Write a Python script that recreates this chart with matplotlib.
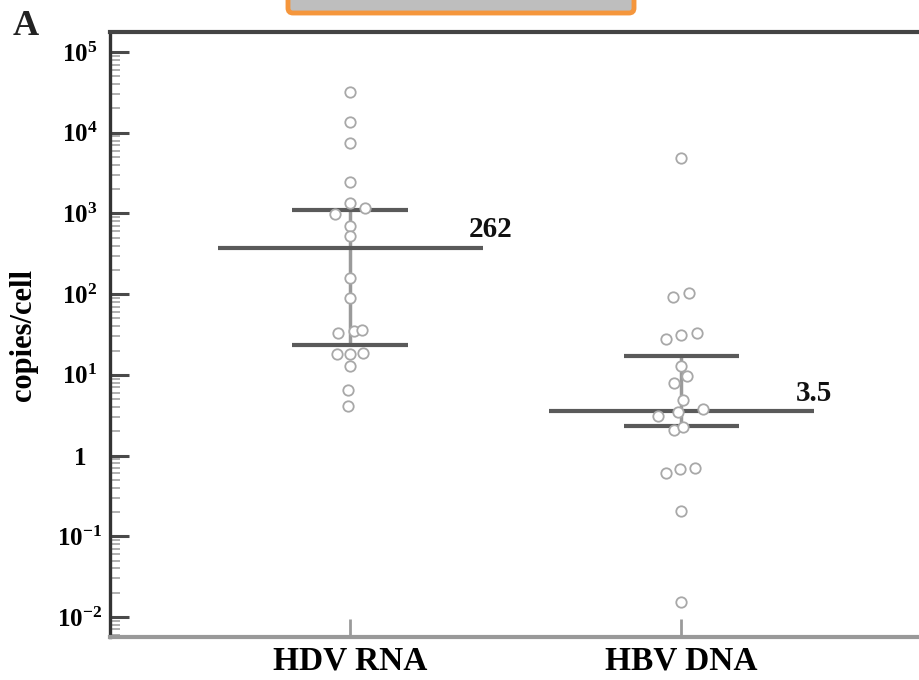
"""
Scatter of HDV RNA and HBV DNA copies per cell (log scale)
with mean line and interquartile bars, panel A.
"""

import numpy as np
import matplotlib
matplotlib.use("Agg")
import matplotlib.pyplot as plt
from matplotlib.patches import FancyBboxPatch
from matplotlib.ticker import FixedLocator, LogLocator, NullFormatter

plt.rcParams["font.family"] = ["Liberation Serif", "DejaVu Serif"]
plt.rcParams["font.weight"] = "bold"
plt.rcParams["mathtext.fontset"] = "custom"
plt.rcParams["mathtext.rm"] = "Liberation Serif"
plt.rcParams["mathtext.bf"] = "Liberation Serif:bold"

# ── DATA ───────────────────────────────────────────────────────

categories = ["HDV RNA", "HBV DNA"]

hdv_values = [31900, 13600, 7450, 2450, 1345, 984, 1168, 698, 525, 158,
              89.6, 34.9, 33.0, 35.9, 18.1, 18.1, 18.6, 12.9, 6.48, 4.10]
hdv_jitter = [0, 0, 0, 0, 0, -0.045, 0.045, 0, 0, 0,
              0, 0.01, -0.036, 0.036, -0.04, 0, 0.04, 0, -0.006, -0.006]

hbv_values = [4850, 92, 103, 27.8, 31.1, 33.0, 12.9, 9.67, 7.9, 4.88,
              3.08, 3.46, 3.77, 2.07, 2.26, 0.607, 0.681, 0.700, 0.205, 0.0153]
hbv_jitter = [0, -0.027, 0.024, -0.048, 0, 0.048, 0, 0.018, -0.024, 0.006,
              -0.07, -0.012, 0.066, -0.024, 0.006, -0.048, -0.003, 0.042, 0, 0]

# mean line, upper and lower quartile bars
mean_values = [370, 3.56]
upper_q = [1100, 17.1]
lower_q = [23.4, 2.32]
mean_labels = ["262", "3.5"]

ytick_values = [1e-2, 1e-1, 1, 1e1, 1e2, 1e3, 1e4, 1e5]
ytick_labels = [r"$\mathbf{10^{-2}}$", r"$\mathbf{10^{-1}}$", r"$\mathbf{1}$",
                r"$\mathbf{10^{1}}$", r"$\mathbf{10^{2}}$", r"$\mathbf{10^{3}}$",
                r"$\mathbf{10^{4}}$", r"$\mathbf{10^{5}}$"]

# ── FIGURE ─────────────────────────────────────────────────────

fig = plt.figure(figsize=(9.19, 6.80), dpi=100)
ax = fig.add_axes([0.1197, 0.0632, 0.885, 0.8897])

LINE_DARK = "#5a5a5a"
POINT_EDGE = "#a8a8a8"

groups = [(hdv_values, hdv_jitter), (hbv_values, hbv_jitter)]

for i, (vals, jit) in enumerate(groups):
    # vertical connector between quartiles
    ax.plot([i, i], [lower_q[i], upper_q[i]], color="#9a9a9a",
            linewidth=2.5, zorder=2, solid_capstyle="butt")
    # quartile bars
    for q in (upper_q[i], lower_q[i]):
        ax.plot([i - 0.175, i + 0.175], [q, q], color=LINE_DARK,
                linewidth=3.0, zorder=2, solid_capstyle="butt")
    # mean line
    ax.plot([i - 0.40, i + 0.40], [mean_values[i], mean_values[i]],
            color=LINE_DARK, linewidth=3.0, zorder=2, solid_capstyle="butt")

    xs = np.array(jit) + i
    ax.plot(xs, vals, linestyle="none", marker="o", markersize=7.5,
            markerfacecolor="white", markeredgecolor=POINT_EDGE,
            markeredgewidth=1.3, zorder=3)

# mean value labels
ax.annotate(mean_labels[0], xy=(0.40, mean_values[0]), xytext=(6, 8),
            textcoords="offset points", ha="center", va="baseline",
            fontsize=21, fontweight="bold", color="#111111")
ax.annotate(mean_labels[1], xy=(1.40, mean_values[1]), xytext=(0, 7),
            textcoords="offset points", ha="center", va="baseline",
            fontsize=21, fontweight="bold", color="#111111")

# ── AXES ───────────────────────────────────────────────────────

ax.set_yscale("log")
ax.set_ylim(10 ** -2.249, 10 ** 5.248)
ax.set_xlim(-0.725, 1.73)

ax.yaxis.set_major_locator(FixedLocator(ytick_values))
ax.set_yticklabels(ytick_labels)
ax.yaxis.set_minor_locator(LogLocator(base=10, subs=np.arange(2, 10), numticks=20))
ax.yaxis.set_minor_formatter(NullFormatter())
ax.tick_params(axis="y", which="major", direction="in", length=14,
               width=2.2, color="#4a4a4a", labelsize=18, pad=22)
ax.tick_params(axis="y", which="minor", direction="in", length=7,
               width=1.4, color="#b0b0b0")
for lab in ax.get_yticklabels():
    lab.set_horizontalalignment("center")

ax.set_xticks([0, 1])
ax.set_xticklabels(categories, fontsize=24, fontweight="bold")
ax.tick_params(axis="x", direction="in", length=13, width=2,
               color="#9a9a9a", pad=6)

ax.set_ylabel("copies/cell", fontsize=22, fontweight="bold")
ax.yaxis.set_label_coords(-0.088, 0.5)

ax.spines["right"].set_visible(False)
ax.spines["left"].set_color("#333333")
ax.spines["left"].set_linewidth(2.4)
ax.spines["top"].set_color("#444444")
ax.spines["top"].set_linewidth(3.0)
ax.spines["bottom"].set_color("#999999")
ax.spines["bottom"].set_linewidth(3.0)

# panel letter
fig.text(0.014, 1 - 35 / 680, "A", fontsize=26, fontweight="bold",
         ha="left", va="baseline", color="#222222")

# highlighted box cut off at the top edge
box = FancyBboxPatch((2.88, 6.67), 3.46, 0.5,
                     boxstyle="round,pad=0,rounding_size=0.05",
                     transform=fig.dpi_scale_trans, facecolor="#bebebe",
                     edgecolor="#f5963c", linewidth=3.5)
fig.add_artist(box)

plt.savefig("out.png", dpi=100)
plt.close()
